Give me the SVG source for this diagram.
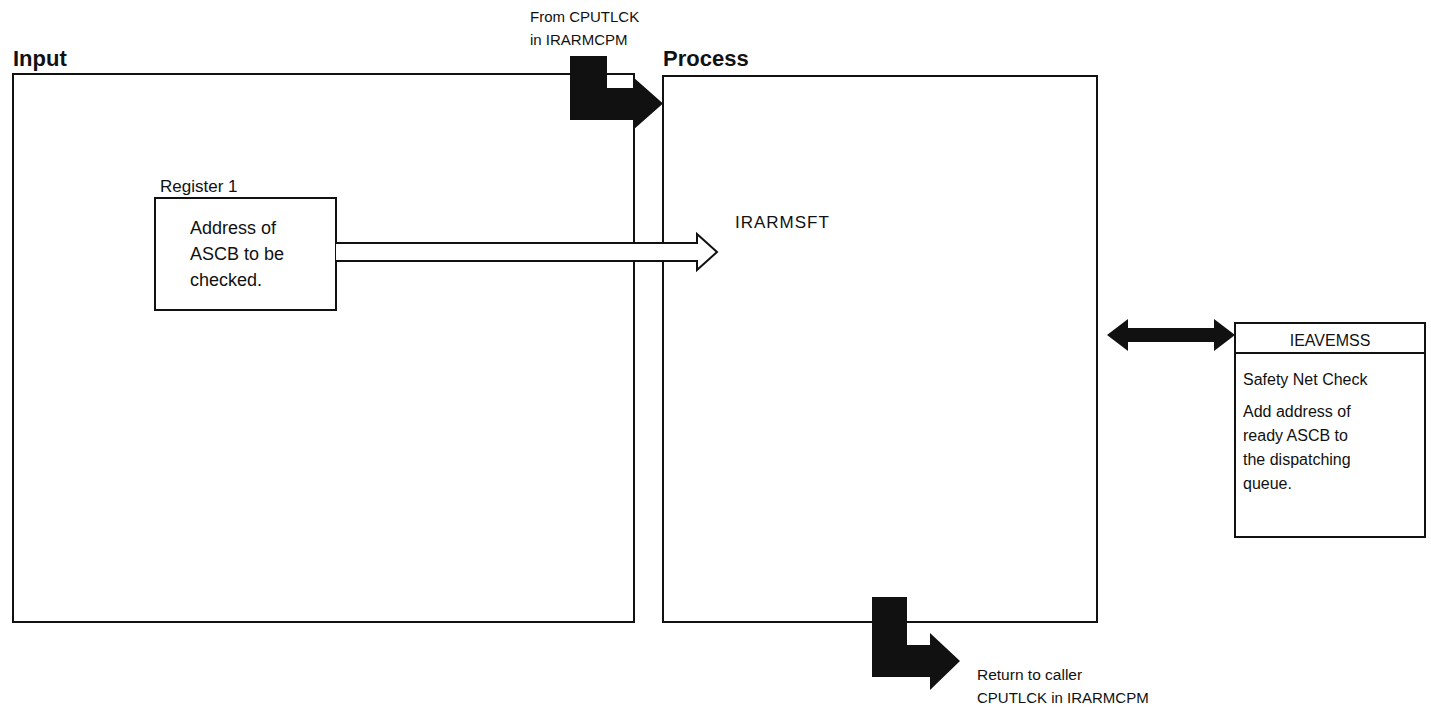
<svg xmlns="http://www.w3.org/2000/svg" width="1431" height="710" viewBox="0 0 1431 710">
<style>
.t{font-family:"Liberation Sans",Arial,sans-serif;font-size:16px;fill:#111}
.r{font-size:18px}
.h{font-family:"Liberation Sans",Arial,sans-serif;font-size:22px;font-weight:bold;fill:#111}
.box{fill:#fff;stroke:#111;stroke-width:2}
.solid{fill:#111;stroke:none}
</style>
<rect width="1431" height="710" fill="#fff"/>
<g id="input">
<text class="h" x="13" y="66">Input</text>
<rect class="box" x="13" y="74" width="621" height="548"/>
</g>
<g id="process">
<text class="h" x="663" y="66">Process</text>
<rect class="box" x="663" y="76" width="434" height="546"/>
<text class="t" x="735" y="228" style="font-size:17px;letter-spacing:1px">IRARMSFT</text>
</g>
<g id="register1">
<text class="t" x="160" y="192" style="font-size:17px">Register 1</text>
<rect class="box" x="155" y="198" width="181" height="112"/>
<text class="t r" x="190" y="234">Address of</text>
<text class="t r" x="190" y="260">ASCB to be</text>
<text class="t r" x="190" y="286">checked.</text>
</g>
<g id="ieavemss">
<rect class="box" x="1235" y="323" width="190" height="214"/>
<line x1="1235" y1="353" x2="1425" y2="353" stroke="#111" stroke-width="2"/>
<text class="t" x="1330" y="346" text-anchor="middle">IEAVEMSS</text>
<text class="t" x="1243" y="385">Safety Net Check</text>
<text class="t" x="1243" y="417">Add address of</text>
<text class="t" x="1243" y="441">ready ASCB to</text>
<text class="t" x="1243" y="465">the dispatching</text>
<text class="t" x="1243" y="489">queue.</text>
</g>
<g id="entry">
<text class="t" x="530" y="22" style="font-size:15px">From CPUTLCK</text>
<text class="t" x="530" y="45" style="font-size:15px">in IRARMCPM</text>
</g>
<g id="exit">
<text class="t" x="977" y="680" style="font-size:15.5px">Return to caller</text>
<text class="t" x="977" y="703" style="font-size:15px">CPUTLCK in IRARMCPM</text>
</g>
<g id="connectors">
<path class="solid" d="M570,56 H607 V88 H633 V77 L663,103.5 L633,130 V120 H570 Z"/>
<path class="box" stroke-width="1.5" d="M336,243 H697 V234 L717,252 L697,270 V261 H336"/>
<path class="solid" d="M1107,335 L1128,319 V328 H1214 V319 L1235,335 L1214,351 V342 H1128 V351 Z"/>
<path class="solid" d="M872,597 H907 V645 H930 V633 L960,661 L930,690 V677 H872 Z"/>
</g>
</svg>
